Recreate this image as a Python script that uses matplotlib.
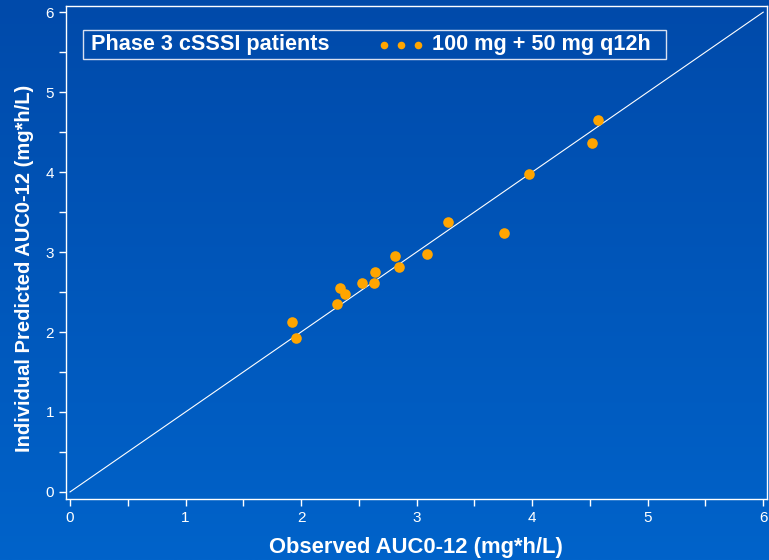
import numpy as np
import matplotlib.pyplot as plt
from matplotlib.patches import Rectangle

# observed vs individual predicted AUC0-12 (mg*h/L)
observed = [1.92, 1.96, 2.31, 2.34, 2.38, 2.53, 2.63, 2.64, 2.81, 2.85,
            3.09, 3.27, 3.76, 3.97, 4.52, 4.57]
predicted = [2.13, 1.93, 2.35, 2.55, 2.47, 2.61, 2.61, 2.75, 2.95, 2.81,
             2.98, 3.37, 3.24, 3.97, 4.36, 4.65]
group_label = 'Phase 3 cSSSI patients'
dose_label = '100 mg + 50 mg q12h'

plt.rcParams['font.family'] = ['Liberation Sans', 'DejaVu Sans']

fig = plt.figure(figsize=(7.69, 5.6), dpi=100)

# blue gradient background
bg = fig.add_axes([0, 0, 1, 1], zorder=-10)
grad = np.linspace(0, 1, 256).reshape(-1, 1)
top = np.array([0x00, 0x4A, 0xAA]) / 255
bottom = np.array([0x00, 0x63, 0xCA]) / 255
img = top + (bottom - top) * grad[:, :, None]
bg.imshow(img, aspect='auto', extent=[0, 1, 0, 1], origin='upper')
bg.axis('off')

ax = fig.add_axes([0.0858, 0.109, 0.9112, 0.880])
ax.set_facecolor('none')

ax.plot([0, 6], [0, 6], color='white', lw=0.8)
ax.scatter(observed, predicted, s=58, color='#FFA500', zorder=3, linewidths=0)

ax.set_xlim(-0.035, 6.03)
ax.set_ylim(-0.088, 6.075)
ax.set_xticks(range(7))
ax.set_yticks(range(7))
ax.set_xticks(np.arange(0.5, 6, 1), minor=True)
ax.set_yticks(np.arange(0.5, 6, 1), minor=True)
ax.tick_params(which='both', colors='white', labelsize=11, length=5, width=1)
for sp in ax.spines.values():
    sp.set_color('white')
    sp.set_linewidth(1)

ax.set_xlabel('Observed AUC0-12 (mg*h/L)', color='white', fontsize=15.8,
              fontweight='bold')
ax.set_ylabel('Individual Predicted AUC0-12 (mg*h/L)', color='white',
              fontsize=14.5, fontweight='bold')
ax.xaxis.set_label_coords(0.5, -0.077)
ax.yaxis.set_label_coords(-0.045, 0.4686)

# legend box
ax.add_patch(Rectangle((0.0243, 0.8925), 0.832, 0.0588,
                       transform=ax.transAxes, fill=False, edgecolor='#d8e0f0',
                       lw=1, zorder=4))
ax.text(0.0355, 0.9215, group_label, transform=ax.transAxes, color='white',
        fontsize=15.6, fontweight='bold', va='center', ha='left')
ax.scatter([0.454, 0.478, 0.503], [0.9215] * 3, transform=ax.transAxes,
           s=30, color='#FFA500', linewidths=0, zorder=5)
ax.text(0.523, 0.9215, dose_label, transform=ax.transAxes, color='white',
        fontsize=15.6, fontweight='bold', va='center', ha='left')

fig.savefig('out.png', dpi=100)
